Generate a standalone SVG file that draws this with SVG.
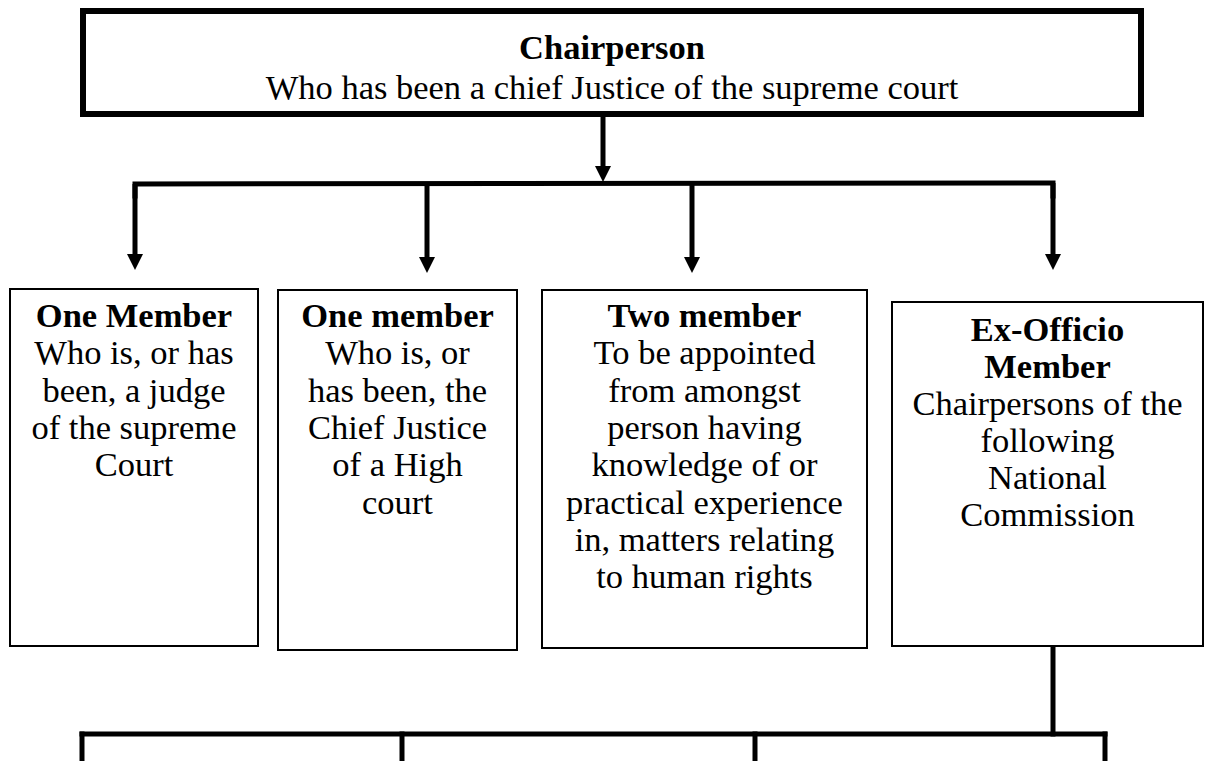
<svg xmlns="http://www.w3.org/2000/svg" width="1206" height="761" viewBox="0 0 1206 761">
<style>
  text { font-family: "Liberation Serif", "Times New Roman", serif; font-size: 34.5px; fill: #000; text-anchor: middle; }
  .b { font-weight: bold; }
  .box { fill: #fff; stroke: #000; stroke-width: 2; }
  .main { fill: #fff; stroke: #000; stroke-width: 6; }
  .conn { fill: none; stroke: #000; stroke-width: 5; stroke-linecap: square; }
  .arr { fill: none; stroke: #000; stroke-width: 5; }
</style>
<defs>
  <marker id="ah" markerUnits="userSpaceOnUse" markerWidth="18" markerHeight="18" refX="2" refY="8" orient="auto">
    <path d="M0,0 L16,8 L0,16 z" fill="#000"/>
  </marker>
</defs>
<rect width="1206" height="761" fill="#fff"/>

<g id="chair">
  <rect class="main" x="83" y="11" width="1058" height="103"/>
  <text class="b" x="612" y="59">Chairperson</text>
  <text x="612" y="99">Who has been a chief Justice of the supreme court</text>
</g>

<g id="connectors">
  <line class="arr" x1="603" y1="117" x2="603" y2="168" marker-end="url(#ah)"/>
  <polyline class="conn" points="135,196 135,184 1053,183 1053,196"/>
  <line class="arr" x1="135" y1="184" x2="135" y2="256" marker-end="url(#ah)"/>
  <line class="arr" x1="427" y1="184" x2="427" y2="259" marker-end="url(#ah)"/>
  <line class="arr" x1="692" y1="184" x2="692" y2="259" marker-end="url(#ah)"/>
  <line class="arr" x1="1053" y1="183" x2="1053" y2="256" marker-end="url(#ah)"/>
  <line class="conn" x1="1053" y1="647" x2="1053" y2="734"/>
  <line class="conn" x1="82" y1="734" x2="1105" y2="734"/>
  <line class="conn" x1="82" y1="734" x2="82" y2="770"/>
  <line class="conn" x1="402" y1="734" x2="402" y2="770"/>
  <line class="conn" x1="755" y1="734" x2="755" y2="770"/>
  <line class="conn" x1="1105" y1="734" x2="1105" y2="770"/>
</g>

<g id="member1">
  <rect class="box" x="10" y="289" width="248" height="357"/>
  <text class="b" x="134" y="327">One Member</text>
  <text x="134" y="364.3">Who is, or has</text>
  <text x="134" y="401.6">been, a judge</text>
  <text x="134" y="438.9">of the supreme</text>
  <text x="134" y="476.2">Court</text>
</g>

<g id="member2">
  <rect class="box" x="278" y="290" width="239" height="360"/>
  <text class="b" x="397.5" y="327">One member</text>
  <text x="397.5" y="364.3">Who is, or</text>
  <text x="397.5" y="401.6">has been, the</text>
  <text x="397.5" y="438.9">Chief Justice</text>
  <text x="397.5" y="476.2">of a High</text>
  <text x="397.5" y="513.5">court</text>
</g>

<g id="member3">
  <rect class="box" x="542" y="290" width="325" height="358"/>
  <text class="b" x="704.5" y="327">Two member</text>
  <text x="704.5" y="364.3">To be appointed</text>
  <text x="704.5" y="401.6">from amongst</text>
  <text x="704.5" y="438.9">person having</text>
  <text x="704.5" y="476.2">knowledge of or</text>
  <text x="704.5" y="513.5">practical experience</text>
  <text x="704.5" y="550.8">in, matters relating</text>
  <text x="704.5" y="588.1">to human rights</text>
</g>

<g id="member4">
  <rect class="box" x="892" y="302" width="311" height="344"/>
  <text class="b" x="1047.5" y="341">Ex-Officio</text>
  <text class="b" x="1047.5" y="378">Member</text>
  <text x="1047.5" y="415">Chairpersons of the</text>
  <text x="1047.5" y="452">following</text>
  <text x="1047.5" y="489">National</text>
  <text x="1047.5" y="526">Commission</text>
</g>
</svg>
